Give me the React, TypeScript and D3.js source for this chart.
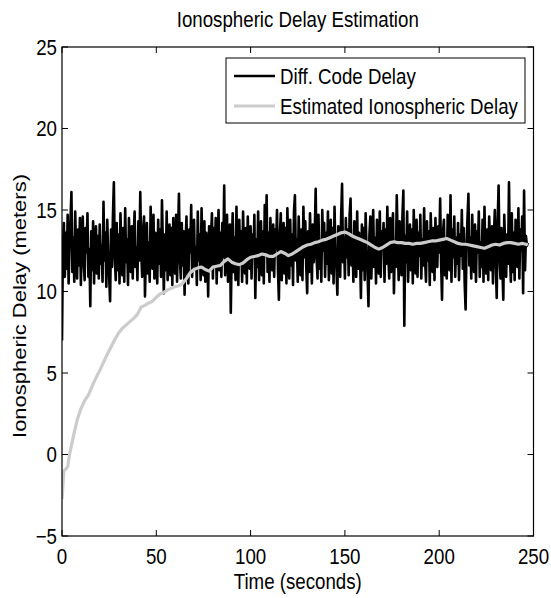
import React from 'react'
import * as d3 from 'd3'

// Ionospheric delay: raw differential code delay vs. filtered estimate

const titleText = 'Ionospheric Delay Estimation'
const xLabel = 'Time (seconds)'
const yLabel = 'Ionospheric Delay (meters)'
const seriesNames = ['Diff. Code Delay', 'Estimated Ionospheric Delay']

const xTicks = [0, 50, 100, 150, 200, 250]
const yTicks = [-5, 0, 5, 10, 15, 20, 25]

// raw diff. code delay, two samples per second from t = 0 (one row = 10 s)
const sampleStep = 0.5
const codeDelay = [
  7.0, 12.8, 14.2, 10.9, 13.6, 11.4, 14.7, 10.5, 12.9, 14.4, 16.1, 11.2, 13.3, 10.6, 14.9, 12.1, 10.8, 13.8, 11.6, 14.5,
  10.4, 13.1, 14.6, 11.8, 10.7, 13.9, 12.4, 14.8, 10.9, 12.6, 9.1, 13.7, 11.3, 14.3, 10.5, 12.9, 14.0, 11.1, 13.4, 10.8,
  14.1, 11.7, 12.8, 10.6, 15.5, 11.9, 13.6, 10.3, 14.4, 12.2, 10.9, 9.4, 13.8, 11.5, 14.6, 16.7, 12.0, 10.7, 14.2, 11.3,
  13.5, 10.5, 14.8, 12.3, 11.0, 13.9, 10.6, 15.1, 11.8, 13.2, 10.4, 14.5, 12.6, 11.2, 14.0, 10.8, 13.3, 14.9, 11.5, 12.7,
  10.7, 14.3, 11.9, 16.1, 12.5, 10.9, 13.7, 14.6, 9.7, 12.4, 14.2, 11.1, 13.0, 10.6, 15.2, 12.1, 11.4, 14.7, 10.8, 13.6,
  12.2, 10.5, 14.4, 11.7, 13.8, 10.9, 15.6, 12.8, 9.9, 13.5, 11.3, 14.9, 10.7, 12.6, 14.1, 11.0, 13.9, 10.4, 14.5, 12.3,
  11.1, 14.7, 10.6, 13.4, 16.0, 12.0, 10.8, 14.2, 11.6, 13.7, 9.8, 12.9, 14.6, 11.2, 10.5, 13.8, 12.4, 15.3, 10.9, 13.1,
  14.4, 11.5, 12.7, 10.4, 14.9, 11.9, 13.5, 10.7, 15.1, 12.2, 11.0, 14.3, 10.6, 13.6, 12.5, 9.7, 14.0, 11.4, 13.2, 14.8,
  10.8, 13.9, 11.7, 14.5, 10.5, 12.8, 15.0, 11.3, 13.6, 10.9, 14.2, 12.1, 16.5, 11.0, 13.4, 14.7, 10.6, 12.9, 14.1, 8.7,
  12.6, 14.8, 11.2, 13.3, 10.7, 15.2, 12.0, 10.4, 14.4, 11.8, 13.7, 10.6, 14.9, 12.5, 11.1, 13.9, 10.5, 14.6, 12.2, 11.4,
  14.0, 10.8, 13.5, 12.1, 14.7, 9.6, 13.2, 11.5, 14.9, 10.7, 12.8, 14.3, 11.0, 13.7, 10.5, 15.3, 12.4, 15.9, 11.2, 13.6,
  10.6, 14.5, 12.0, 11.3, 14.1, 10.9, 13.8, 12.6, 15.0, 11.4, 9.5, 13.4, 14.8, 10.7, 12.3, 14.2, 11.1, 13.9, 10.5, 15.1,
  12.7, 10.8, 14.4, 11.6, 13.5, 10.4, 14.9, 15.9, 11.9, 13.2, 10.6, 14.6, 12.4, 11.0, 13.8, 10.7, 15.2, 12.1, 14.3, 11.5,
  9.9, 13.7, 11.2, 14.8, 12.6, 10.5, 14.1, 11.8, 13.4, 16.3, 12.0, 10.8, 14.7, 11.4, 13.1, 10.6, 15.0, 12.5, 14.2, 10.9,
  13.6, 11.7, 14.9, 10.7, 12.8, 14.4, 11.1, 13.9, 10.5, 15.2, 12.3, 11.5, 9.8, 14.0, 12.7, 10.9, 14.6, 16.6, 11.8, 13.3,
  10.8, 14.5, 12.1, 13.8, 11.0, 14.7, 15.7, 11.6, 13.2, 10.6, 14.3, 12.5, 10.9, 14.9, 11.4, 13.6, 12.2, 9.6, 14.1, 11.3,
  13.9, 10.7, 14.8, 12.4, 11.2, 9.1, 13.5, 14.6, 10.8, 12.7, 15.0, 11.5, 13.3, 10.5, 14.4, 12.0, 11.1, 14.9, 10.9, 13.7,
  12.6, 14.2, 10.6, 13.8, 11.7, 15.2, 12.3, 10.8, 14.5, 11.2, 13.6, 14.8, 9.9, 12.9, 11.5, 15.9, 13.1, 10.7, 14.3, 12.4,
  11.0, 14.6, 16.2, 7.9, 13.4, 11.8, 14.9, 10.6, 12.7, 14.1, 11.3, 13.8, 10.5, 15.0, 12.5, 11.1, 14.4, 10.9, 13.6, 12.2,
  14.7, 10.8, 13.2, 11.6, 15.1, 12.0, 10.6, 14.3, 11.9, 13.7, 10.4, 14.8, 12.6, 11.2, 13.9, 10.7, 14.5, 12.3, 11.5, 14.0,
  12.4, 15.7, 11.8, 9.5, 13.6, 14.4, 11.0, 13.1, 10.8, 14.7, 12.5, 11.3, 15.9, 10.6, 13.8, 12.1, 14.6, 10.9, 13.3, 11.7,
  14.2, 10.7, 13.5, 12.2, 15.0, 11.4, 13.9, 10.5, 8.9, 12.8, 14.5, 16.0, 11.6, 13.3, 10.8, 14.7, 12.0, 11.2, 14.1, 10.6,
  13.7, 12.4, 14.9, 10.9, 13.0, 11.5, 14.4, 10.6, 15.2, 12.2, 11.1, 13.8, 10.7, 14.6, 12.7, 11.3, 14.0, 10.5, 13.4, 15.0,
  11.8, 9.6, 14.3, 16.5, 12.1, 10.8, 13.9, 11.4, 9.5, 14.7, 12.6, 10.9, 13.5, 11.7, 16.7, 12.3, 10.6, 14.8, 11.2, 13.6,
  10.7, 14.4, 12.0, 11.5, 15.1, 10.8, 13.8, 12.5, 14.6, 9.9, 16.2, 11.3, 13.4, 12.8, 13.0,
]

// filtered estimate
const estTime = [
  0, 0.5, 1, 2, 3, 4, 6, 8, 10, 12, 14, 16, 18, 20, 22, 24, 26, 28, 30,
  32, 34, 36, 38, 40, 42, 44, 46, 48, 50, 52, 54, 56, 58, 60, 62, 64, 66,
  68, 70, 72, 74, 76, 78, 80, 82, 84, 86, 88, 90, 92, 94, 96, 98, 100,
  102, 104, 106, 108, 110, 112, 114, 116, 118, 120, 122, 124, 126, 128,
  130, 132, 134, 136, 138, 140, 142, 144, 146, 148, 150, 152, 154, 156,
  158, 160, 162, 164, 166, 168, 170, 172, 174, 176, 178, 180, 182, 184,
  186, 188, 190, 192, 194, 196, 198, 200, 202, 204, 206, 208, 210, 212,
  214, 216, 218, 220, 222, 224, 226, 228, 230, 232, 234, 236, 238, 240,
  242, 244, 246, 247,
]
const estDelay = [
  -2.75, -1.9, -1.0, -0.9, -0.75, 0.0, 1.1, 2.1, 2.8, 3.3, 3.65, 4.2, 4.7, 5.15, 5.65, 6.15, 6.6, 7.05, 7.45,
  7.75, 7.95, 8.15, 8.35, 8.6, 9.05, 9.15, 9.3, 9.4, 9.65, 9.85, 9.95, 10.1, 10.2, 10.3, 10.35, 10.5, 10.8,
  11.15, 11.35, 11.45, 11.5, 11.35, 11.25, 11.5, 11.55, 11.6, 11.85, 12.0, 11.8, 11.7, 11.65, 11.75, 11.95, 12.1,
  12.15, 12.2, 12.3, 12.25, 12.15, 12.15, 12.3, 12.45, 12.35, 12.2, 12.3, 12.45, 12.6, 12.75,
  12.85, 12.9, 13.0, 13.05, 13.15, 13.2, 13.3, 13.4, 13.5, 13.6, 13.65, 13.55, 13.4, 13.3,
  13.2, 13.1, 13.0, 12.85, 12.7, 12.6, 12.7, 12.85, 13.0, 13.05, 13.0, 13.0, 12.95, 12.95,
  12.9, 12.95, 12.95, 13.0, 13.05, 13.1, 13.1, 13.15, 13.2, 13.25, 13.15, 13.05, 12.95, 12.9,
  12.9, 12.85, 12.8, 12.75, 12.7, 12.65, 12.75, 12.85, 12.9, 12.85, 12.95, 13.0, 13.0, 12.95,
  12.9, 12.95, 12.9, 12.85,
]

const W = 551
const H = 598
const font = 'Liberation Sans, Arial, Helvetica, sans-serif'
const fs = 22
const squeeze = 0.85 // the glyphs in the figure are narrower than plain Arial

const x = d3.scaleLinear().domain([0, 250]).range([62, 533.5])
const y = d3.scaleLinear().domain([-5, 25]).range([536, 47])

const rawLine = d3.line<number>()
  .x((d, i) => x(i * sampleStep))
  .y(d => y(d))

const estLine = d3.line<number>()
  .x((d, i) => x(estTime[i]))
  .y(d => y(d))

const fmt = d3.format('d')

function Label({ tx, ty, anchor = 'middle', rotate = 0, children }: any) {
  return (
    <text
      transform={`translate(${tx},${ty}) scale(${squeeze},1)${rotate ? ` rotate(${rotate})` : ''}`}
      textAnchor={anchor}
      fontFamily={font}
      fontSize={fs}
      fill="#000"
    >
      {children}
    </text>
  )
}

export default function App() {
  const [x0, x1] = x.range()
  const [y0, y1] = y.range() // y0 bottom, y1 top
  const tick = 6

  const legX = 226
  const legY = 58
  const legW = 299
  const legH = 65

  return (
    <svg width={W} height={H} style={{ position: 'absolute', left: 0, top: 0, background: '#fff' }}>
      <rect width={W} height={H} fill="#fff" />

      <Label tx={(x0 + x1) / 2} ty={27}>{titleText}</Label>

      <defs>
        <clipPath id="plot">
          <rect x={x0} y={y1} width={x1 - x0} height={y0 - y1} />
        </clipPath>
      </defs>

      <g clipPath="url(#plot)">
        <path d={rawLine(codeDelay) || ''} fill="none" stroke="#000" strokeWidth={2.6} strokeLinejoin="round" />
        <path d={estLine(estDelay) || ''} fill="none" stroke="#cccccc" strokeWidth={3.2} strokeLinejoin="round" />
      </g>

      {/* box and ticks */}
      <rect x={x0} y={y1} width={x1 - x0} height={y0 - y1} fill="none" stroke="#000" strokeWidth={1.2} />
      {xTicks.map(t => (
        <g key={'x' + t}>
          <line x1={x(t)} x2={x(t)} y1={y0} y2={y0 - tick} stroke="#000" />
          <line x1={x(t)} x2={x(t)} y1={y1} y2={y1 + tick} stroke="#000" />
          <Label tx={x(t)} ty={564}>{fmt(t)}</Label>
        </g>
      ))}
      {yTicks.map(t => (
        <g key={'y' + t}>
          <line x1={x0} x2={x0 + tick} y1={y(t)} y2={y(t)} stroke="#000" />
          <line x1={x1} x2={x1 - tick} y1={y(t)} y2={y(t)} stroke="#000" />
          <Label tx={57} ty={y(t) + 7.8} anchor="end">{fmt(t)}</Label>
        </g>
      ))}

      <Label tx={(x0 + x1) / 2} ty={589}>{xLabel}</Label>
      <Label tx={26} ty={306} rotate={-90}>{yLabel}</Label>

      {/* legend */}
      <rect x={legX} y={legY} width={legW} height={legH} fill="#fff" stroke="#000" strokeWidth={1} />
      {seriesNames.map((name, i) => {
        const ly = legY + 18 + i * 30
        return (
          <g key={name}>
            <line x1={234} x2={275} y1={ly} y2={ly} stroke={i === 0 ? '#000' : '#cccccc'} strokeWidth={i === 0 ? 2.7 : 3} />
            <Label tx={280} ty={ly + 8} anchor="start">{name}</Label>
          </g>
        )
      })}
    </svg>
  )
}
